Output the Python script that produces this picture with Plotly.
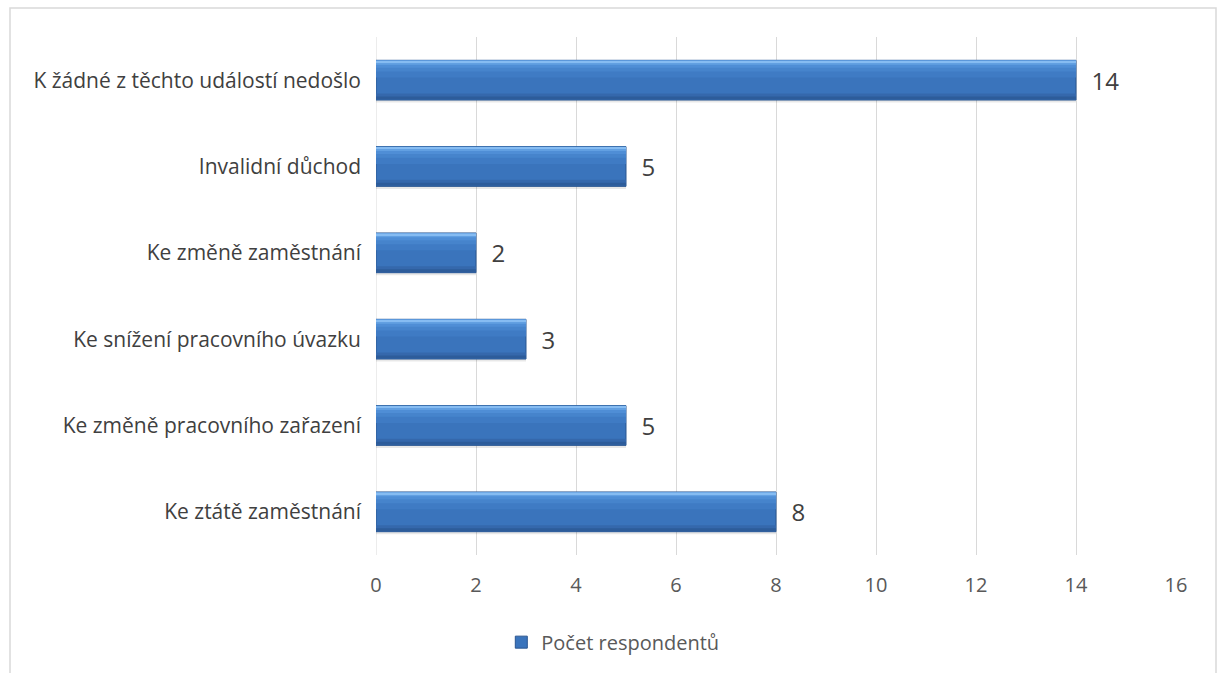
import plotly.graph_objects as go

# Survey answers, listed bottom-to-top as they appear on the axis
categories = [
    "Ke ztátě zaměstnání",
    "Ke změně pracovního zařazení",
    "Ke snížení pracovního úvazku",
    "Ke změně zaměstnání",
    "Invalidní důchod",
    "K žádné z těchto událostí nedošlo",
]
counts = [8, 5, 3, 2, 5, 14]
series_name = "Počet respondentů"
x_ticks = [0, 2, 4, 6, 8, 10, 12, 14, 16]

FONT = "'Open Sans', sans-serif"
BAR_W = 0.46
HALF = BAR_W / 2

fig = go.Figure()


def band(width, offset, color):
    """Thin overlay strip that shades part of every bar (bevel effect)."""
    fig.add_trace(go.Bar(
        y=categories, x=counts, orientation="h",
        width=width, offset=offset,
        marker=dict(color=color, line=dict(width=0)),
        hoverinfo="skip", showlegend=False,
    ))


# soft drop shadow under each bar
fig.add_trace(go.Bar(
    y=categories, x=counts, orientation="h",
    width=BAR_W, offset=-HALF - 0.03,
    marker=dict(color="rgba(0,0,0,0.09)", line=dict(width=0)),
    hoverinfo="skip", showlegend=False,
))

# main bar body with value labels
fig.add_trace(go.Bar(
    y=categories, x=counts, orientation="h", name=series_name,
    width=BAR_W, offset=-HALF,
    marker=dict(color="#3A74BC", line=dict(color="#2A5690", width=1)),
    texttemplate="  %{x}", textposition="outside",
    textfont=dict(family=FONT, size=24, color="#404040"),
    cliponaxis=False,
    showlegend=True,
))

# shading from the lit top edge down to the darker bottom edge
band(0.20, HALF - 0.20, "#3F7BC4")
band(0.13, HALF - 0.13, "#4684CC")
band(0.08, HALF - 0.085, "#4F8ED6")
band(0.045, HALF - 0.05, "#62A0E2")
band(0.02, HALF - 0.025, "#86BCF2")
band(0.07, -HALF + 0.006, "#3568AC")
band(0.035, -HALF + 0.006, "#2D5C9A")

fig.update_layout(
    width=1221, height=673,
    margin=dict(l=376, r=45, t=37, b=117),
    paper_bgcolor="white", plot_bgcolor="white",
    barmode="overlay",
    font=dict(family=FONT, color="#595959"),
    xaxis=dict(
        range=[0, 16], tickvals=x_ticks,
        showgrid=True, gridcolor="#D9D9D9", gridwidth=1,
        zeroline=False, showline=False,
        tickfont=dict(family=FONT, size=20, color="#595959"),
        ticks="", ticklabelstandoff=16,
        fixedrange=True,
    ),
    yaxis=dict(
        categoryorder="array", categoryarray=categories,
        showgrid=False, zeroline=False, showline=False,
        tickfont=dict(family=FONT, size=21, color="#404040"),
        ticks="", ticklabelstandoff=14,
        fixedrange=True,
    ),
    legend=dict(
        orientation="h", x=0.296, xanchor="center",
        y=-0.166, yanchor="middle",
        font=dict(family=FONT, size=20, color="#595959"),
        itemwidth=30,
    ),
    shapes=[
        # vertical grid at zero drawn like the other gridlines
        dict(type="line", xref="x", yref="paper", x0=0, x1=0, y0=0, y1=1,
             line=dict(color="#D9D9D9", width=1), layer="below"),
        # chart area border
        dict(type="rect", xref="paper", yref="paper",
             x0=-0.4575, x1=1.05, y0=-0.25, y1=1.0559,
             line=dict(color="#D9D9D9", width=1.5), layer="below"),
    ],
    bargap=0.54,
)

fig.write_html("out.html")
